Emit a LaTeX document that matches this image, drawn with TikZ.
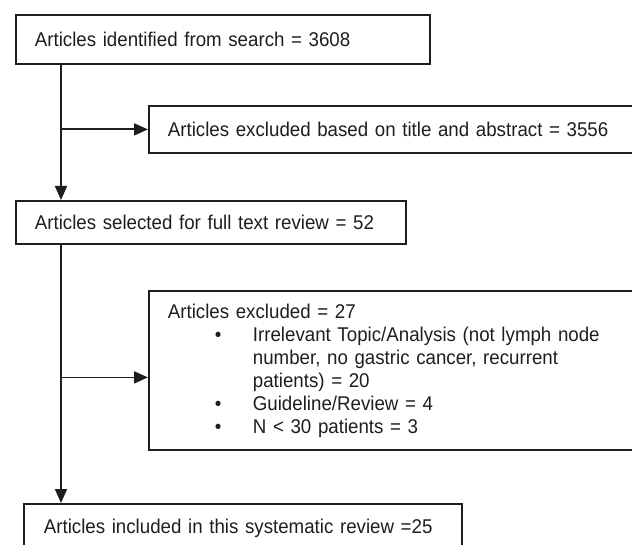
\documentclass[tikz,border=0pt]{standalone}
\usepackage{fontspec}
\setmainfont{Liberation Sans}[FakeStretch=0.94]
\usepackage{tikz}
\usetikzlibrary{arrows.meta, positioning, calc}
\definecolor{boxline}{RGB}{30, 30, 30}
\newcommand{\bulletrow}{\makebox[85pt][l]{\hspace{47pt}\textbullet}}
\newcommand{\hangrow}{\hspace*{85pt}}

\begin{document}
\begin{tikzpicture}[x=1pt, y=-1pt,
    flowbox/.style={draw=boxline, line width=1.8pt, anchor=north west,
      inner xsep=19pt, inner ysep=0pt, align=left, text=boxline,
      font=\fontsize{19.9}{23}\selectfont},
    flowarrow/.style={-{Triangle[length=14pt, width=12pt]}, draw=boxline, line width=1.8pt}]
    \useasboundingbox (0,0) rectangle (632,545);
    \clip (0,0) rectangle (632,545);
    % Boxes
    \node[flowbox, text width=376pt, minimum height=49pt] (ident) at (15,14)
      {Articles identified from search = 3608};
    \node[flowbox, text width=474pt, minimum height=47pt] (title) at (148,105)
      {Articles excluded based on title and abstract = 3556};
    \node[flowbox, text width=352pt, minimum height=43pt] (full) at (15,200)
      {Articles selected for full text review = 52};
    \node[flowbox, text width=474pt, minimum height=159pt] (excl) at (148,290)
      {Articles excluded = 27\\
       \bulletrow Irrelevant Topic/Analysis (not lymph node\\
       \hangrow number, no gastric cancer, recurrent\\
       \hangrow patients) = 20\\
       \bulletrow Guideline/Review = 4\\
       \bulletrow N < 30 patients = 3};
    \node[flowbox, inner xsep=20pt, text width=398pt, minimum height=48pt] (incl) at (23,503)
      {\mbox{Articles included in this systematic review =25}};
    % Trunk and branches
    \coordinate (trunk) at ([xshift=46pt]ident.south west);
    \coordinate (exclin) at ([yshift=-7pt]excl.west);
    \draw[flowarrow] (trunk) -- (trunk |- full.north);
    \draw[flowarrow] (trunk |- title.west) -- (title.west);
    \draw[flowarrow] (trunk |- full.south) -- (trunk |- incl.north);
    \draw[flowarrow] (trunk |- exclin) -- (exclin);
\end{tikzpicture}
\end{document}
